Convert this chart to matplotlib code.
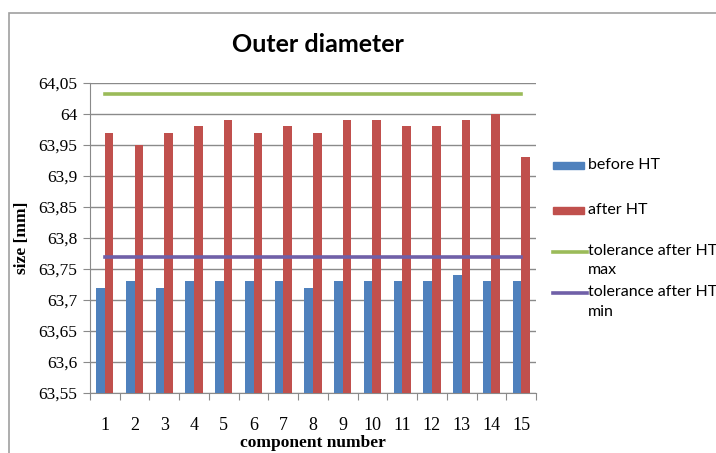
import numpy as np
import matplotlib.pyplot as plt
from matplotlib.patches import Rectangle
from matplotlib.lines import Line2D
from matplotlib.ticker import FuncFormatter, MultipleLocator

# outer diameter of the 15 components, before and after heat treatment
components = [str(i) for i in range(1, 16)]
before_ht = [63.72, 63.73, 63.72, 63.73, 63.73, 63.73, 63.73, 63.72,
             63.73, 63.73, 63.73, 63.73, 63.74, 63.73, 63.73]
after_ht = [63.97, 63.95, 63.97, 63.98, 63.99, 63.97, 63.98, 63.97,
            63.99, 63.99, 63.98, 63.98, 63.99, 64.00, 63.93]
tol_max = [64.033] * 15
tol_min = [63.77] * 15
series_labels = ['before HT', 'after HT', 'tolerance after HT\nmax', 'tolerance after HT\nmin']

ymin, ymax = 63.55, 64.05

blue = '#4F81BD'
red = '#C0504D'
green = '#9BBB59'
purple = '#7060A8'

fig = plt.figure(figsize=(7.16, 4.53), dpi=100)
ax = fig.add_axes([90 / 716, 1 - 393 / 453, 446 / 716, 310 / 453])

x = np.arange(1, 16)
w = 0.29
ax.bar(x - w / 2, np.array(before_ht) - ymin, w, bottom=ymin, color=blue, zorder=3)
ax.bar(x + w / 2, np.array(after_ht) - ymin, w, bottom=ymin, color=red, zorder=3)
ax.plot(x, tol_max, color=green, lw=2.6, zorder=4)
ax.plot(x, tol_min, color=purple, lw=2.6, zorder=4)

ax.set_xlim(0.5, 15.5)
ax.set_ylim(ymin, ymax)
ax.yaxis.set_major_locator(MultipleLocator(0.05))
ax.yaxis.set_major_formatter(FuncFormatter(lambda v, p: f'{v:.2f}'.rstrip('0').rstrip('.').replace('.', ',')))
ax.grid(axis='y', color='#8a8a8a', lw=1.0, zorder=0)

ax.set_xticks(np.arange(0.5, 16, 1))
ax.set_xticklabels([])
ax.set_xticks(x, minor=True)
ax.set_xticklabels(components, minor=True, fontfamily='Liberation Serif', fontsize=13)
ax.tick_params(axis='x', which='major', length=5, color='#8a8a8a')
ax.tick_params(axis='x', which='minor', length=0, pad=17)
ax.tick_params(axis='y', length=5, color='#8a8a8a', pad=4)
for t in ax.get_yticklabels():
    t.set_fontfamily('Liberation Serif')
    t.set_fontsize(12.5)

for s in ['top', 'right']:
    ax.spines[s].set_visible(False)
for s in ['left', 'bottom']:
    ax.spines[s].set_color('#8a8a8a')

ax.set_xlabel('component number', fontfamily='Liberation Serif', fontweight='bold',
              fontsize=12.5, labelpad=1)
ax.set_ylabel('size [mm]', fontfamily='Liberation Serif', fontweight='bold',
              fontsize=12.5, labelpad=6)
fig.text(318 / 716, 1 - 44 / 453, 'Outer diameter', ha='center', va='center',
         fontfamily='Lato', fontweight='bold', fontsize=18)

# legend built by hand: handle on the left, label to its right
W, H = 716, 453
def fx(px): return px / W
def fy(py): return 1 - py / H

handles = [('patch', blue, 165), ('patch', red, 210),
           ('line', green, 252), ('line', purple, 293)]
for (kind, col, py), label in zip(handles, series_labels):
    if kind == 'patch':
        fig.add_artist(Rectangle((fx(553), fy(py + 3.5)), fx(31), 7 / H,
                                 transform=fig.transFigure, color=col))
        fig.text(fx(588), fy(py), label, ha='left', va='center',
                 fontfamily='Lato', fontsize=11.5)
    else:
        fig.add_artist(Line2D([fx(553), fx(587)], [fy(py), fy(py)],
                              transform=fig.transFigure, color=col, lw=2.6))
        fig.text(fx(588), fy(py - 8), label, ha='left', va='top',
                 fontfamily='Lato', fontsize=11.5, linespacing=1.5)

# chart frame
fig.add_artist(Rectangle((9 / 716, -0.1), 1.2, 1.1 - 13 / 453, transform=fig.transFigure,
                         fill=False, edgecolor='#a0a0a0', lw=1.2, clip_on=False))

fig.savefig('out.png', dpi=100)
